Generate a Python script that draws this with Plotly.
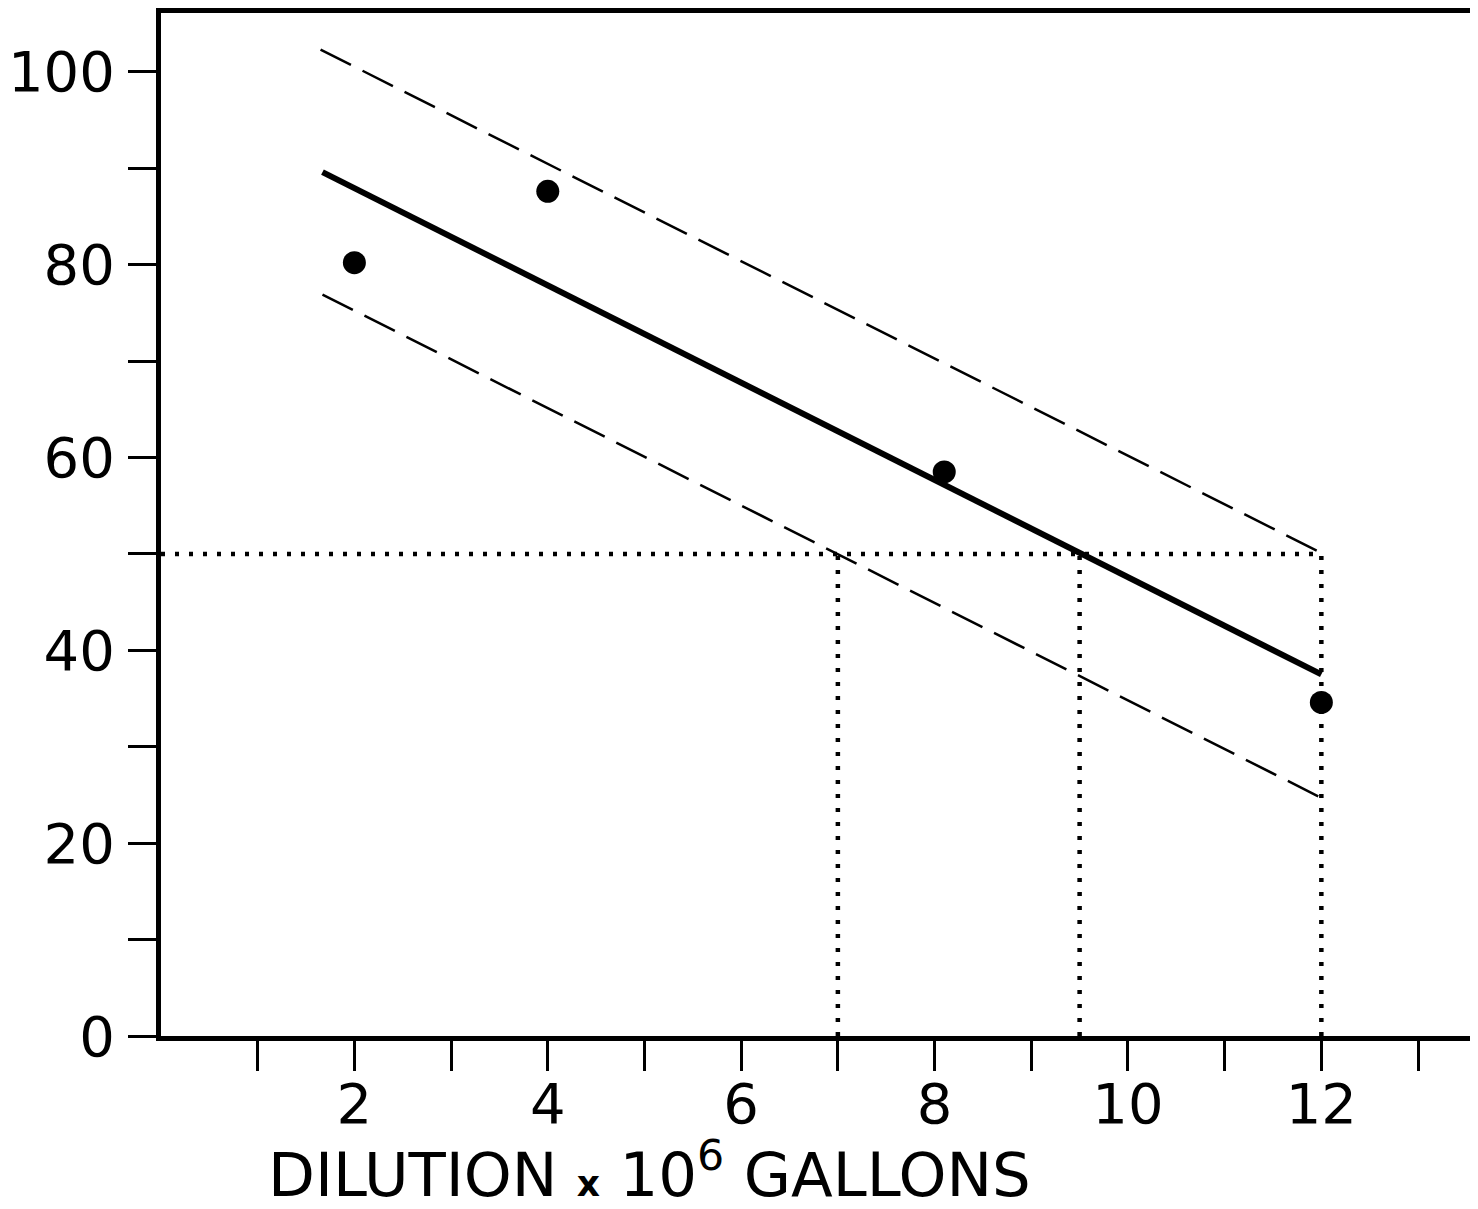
import plotly.graph_objects as go

# Observed data points
point_x = [2.0, 4.0, 8.1, 12.0]
point_y = [80.2, 87.6, 58.5, 34.6]

# Fitted regression line and confidence band (end points)
fit_x = [1.67, 12.0]
fit_y = [89.6, 37.5]
upper_x = [1.65, 12.0]
upper_y = [102.3, 50.1]
lower_x = [1.67, 12.0]
lower_y = [76.9, 24.7]

# Dotted reference lines
ref_h_x = [0.0, 12.0]
ref_h_y = [50.0, 50.0]
ref_v_xs = [7.0, 9.5, 12.0]
ref_v_y = [0.0, 50.0]

# Ticks
x_tickvals = list(range(1, 14))
x_ticktext = ["", "2", "", "4", "", "6", "", "8", "", "10", "", "12", ""]
y_tickvals = list(range(0, 101, 10))
y_ticktext = ["0", "", "20", "", "40", "", "60", "", "80", "", "100"]

x_title = "DILUTION <span style='font-size:36px'><b>x</b></span> 10<sup>6</sup> GALLONS"

FONT = "DejaVu Sans"
fig = go.Figure()

fig.add_trace(go.Scatter(x=ref_h_x, y=ref_h_y, mode="lines",
                         line=dict(color="black", width=4.5, dash="4px,10px")))
for vx in ref_v_xs:
    fig.add_trace(go.Scatter(x=[vx, vx], y=ref_v_y, mode="lines",
                             line=dict(color="black", width=4.5, dash="4px,10px")))

fig.add_trace(go.Scatter(x=upper_x, y=upper_y, mode="lines",
                         line=dict(color="black", width=2.5, dash="34px,13px")))
fig.add_trace(go.Scatter(x=lower_x, y=lower_y, mode="lines",
                         line=dict(color="black", width=2.5, dash="34px,13px")))
fig.add_trace(go.Scatter(x=fit_x, y=fit_y, mode="lines",
                         line=dict(color="black", width=6)))
fig.add_trace(go.Scatter(x=point_x, y=point_y, mode="markers",
                         marker=dict(color="black", size=23)))

fig.add_annotation(text=x_title, xref="x", yref="paper", x=5.05, y=-0.131,
                   xanchor="center", yanchor="middle", showarrow=False,
                   font=dict(family=FONT, size=61, color="black"))

fig.update_layout(
    width=1470, height=1201,
    margin=dict(l=150, r=0, t=3, b=173),
    paper_bgcolor="white", plot_bgcolor="white",
    showlegend=False,
    font=dict(family=FONT, size=54, color="black"),
)
fig.update_xaxes(range=[0, 13.62], showgrid=False, zeroline=False,
                 showline=True, linecolor="black", linewidth=5, mirror=True,
                 ticks="outside", ticklen=30, tickwidth=3, tickcolor="black",
                 tickmode="array", tickvals=x_tickvals, ticktext=x_ticktext,
                 ticklabelstandoff=-15,
                 tickfont=dict(family=FONT, size=56, color="black"))
fig.update_yaxes(range=[0, 106.1], showgrid=False, zeroline=False,
                 showline=True, linecolor="black", linewidth=5, mirror=False,
                 ticks="outside", ticklen=28, tickwidth=3, tickcolor="black",
                 tickmode="array", tickvals=y_tickvals, ticktext=y_ticktext,
                 ticklabelstandoff=2,
                 tickfont=dict(family=FONT, size=56, color="black"))

fig.write_html("out.html")
